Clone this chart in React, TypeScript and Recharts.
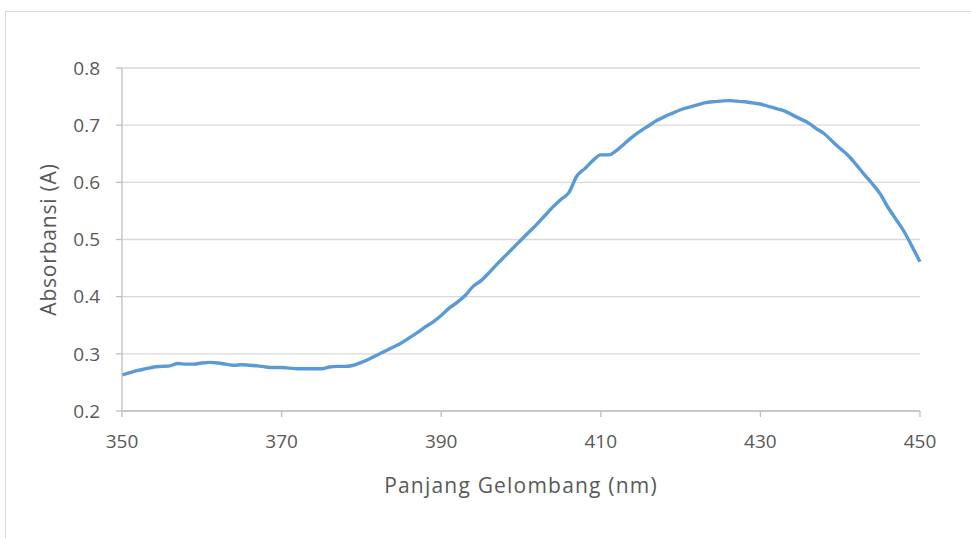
// Spektrum absorbansi – panjang gelombang 350–450 nm

import { LineChart, Line, XAxis, YAxis, CartesianGrid } from 'recharts';

const wavelengths = [
  350, 351, 352, 353, 354, 355, 356, 357, 358, 359,
  360, 361, 362, 363, 364, 365, 366, 367, 368, 369,
  370, 371, 372, 373, 374, 375, 376, 377, 378, 379,
  380, 381, 382, 383, 384, 385, 386, 387, 388, 389,
  390, 391, 392, 393, 394, 395, 396, 397, 398, 399,
  400, 401, 402, 403, 404, 405, 406, 407, 408, 409,
  410, 411, 412, 413, 414, 415, 416, 417, 418, 419,
  420, 421, 422, 423, 424, 425, 426, 427, 428, 429,
  430, 431, 432, 433, 434, 435, 436, 437, 438, 439,
  440, 441, 442, 443, 444, 445, 446, 447, 448, 449,
  450,
];

const absorbance = [
  0.263, 0.267, 0.271, 0.274, 0.277, 0.278, 0.279, 0.283, 0.282, 0.282,
  0.284, 0.285, 0.284, 0.282, 0.280, 0.281, 0.280, 0.279, 0.277, 0.276,
  0.276, 0.275, 0.274, 0.274, 0.274, 0.274, 0.277, 0.278, 0.278, 0.280,
  0.285, 0.291, 0.298, 0.305, 0.312, 0.319, 0.328, 0.337, 0.347, 0.356,
  0.367, 0.380, 0.390, 0.402, 0.418, 0.428, 0.442, 0.457, 0.471, 0.485,
  0.499, 0.513, 0.527, 0.542, 0.557, 0.570, 0.582, 0.611, 0.624, 0.638,
  0.648, 0.648, 0.656, 0.668, 0.680, 0.690, 0.699, 0.708, 0.715, 0.721,
  0.727, 0.731, 0.735, 0.739, 0.741, 0.742, 0.743, 0.742, 0.741, 0.739,
  0.737, 0.733, 0.729, 0.725, 0.718, 0.711, 0.704, 0.694, 0.685, 0.672,
  0.659, 0.647, 0.631, 0.614, 0.598, 0.580, 0.556, 0.535, 0.514, 0.488,
  0.461,
];

const xTicks = [350, 370, 390, 410, 430, 450];
const yTicks = [0.2, 0.3, 0.4, 0.5, 0.6, 0.7, 0.8];

const data = wavelengths.map((nm, i) => ({ nm, abs: absorbance[i] }));

const FONT = "'Open Sans', sans-serif";
const TEXT = '#595959';

const YTitle = ({ viewBox }: any) => {
  const cx = 48;
  const cy = viewBox.y + viewBox.height / 2;
  return (
    <text
      x={cx}
      y={cy}
      transform={`rotate(-90, ${cx}, ${cy})`}
      textAnchor="middle"
      dominantBaseline="central"
      fontSize={21}
      letterSpacing={0.8}
      fill={TEXT}
      fontFamily={FONT}
    >
      Absorbansi (A)
    </text>
  );
};

export default function App() {
  return (
    <div style={{ position: 'absolute', left: 0, top: 0, width: 971, height: 538, overflow: 'hidden', background: '#fff' }}>
      <div style={{ position: 'absolute', left: 5, top: 11, width: 1000, height: 600, border: '1px solid #d9d9d9' }} />
      <div style={{ position: 'absolute', left: 0, top: 0 }}>
        <LineChart width={971} height={538} data={data} margin={{ top: 68, right: 51, bottom: 37, left: 22 }}>
          <CartesianGrid stroke="#d9d9d9" strokeWidth={1.3} vertical={false} />
          <XAxis
            dataKey="nm"
            type="number"
            domain={[350, 450]}
            ticks={xTicks}
            height={90}
            stroke="#bfbfbf"
            strokeWidth={1.3}
            tickSize={6}
            tickMargin={18}
            tick={{ fontSize: 19, fill: TEXT, fontFamily: FONT }}
            label={{ value: 'Panjang Gelombang (nm)', position: 'insideBottom', offset: 8, fontSize: 21, letterSpacing: 1.2, fill: TEXT, fontFamily: FONT }}
          />
          <YAxis
            type="number"
            domain={[0.2, 0.8]}
            ticks={yTicks}
            width={100}
            stroke="#bfbfbf"
            strokeWidth={1.3}
            tickSize={6}
            tickMargin={16}
            tickFormatter={(v: number) => v.toFixed(1)}
            tick={{ fontSize: 19, fill: TEXT, fontFamily: FONT }}
            label={{ content: YTitle }}
          />
          <Line
            dataKey="abs"
            type="monotone"
            stroke="#5b9bd5"
            strokeWidth={3.4}
            dot={false}
            isAnimationActive={false}
          />
        </LineChart>
      </div>
    </div>
  );
}
